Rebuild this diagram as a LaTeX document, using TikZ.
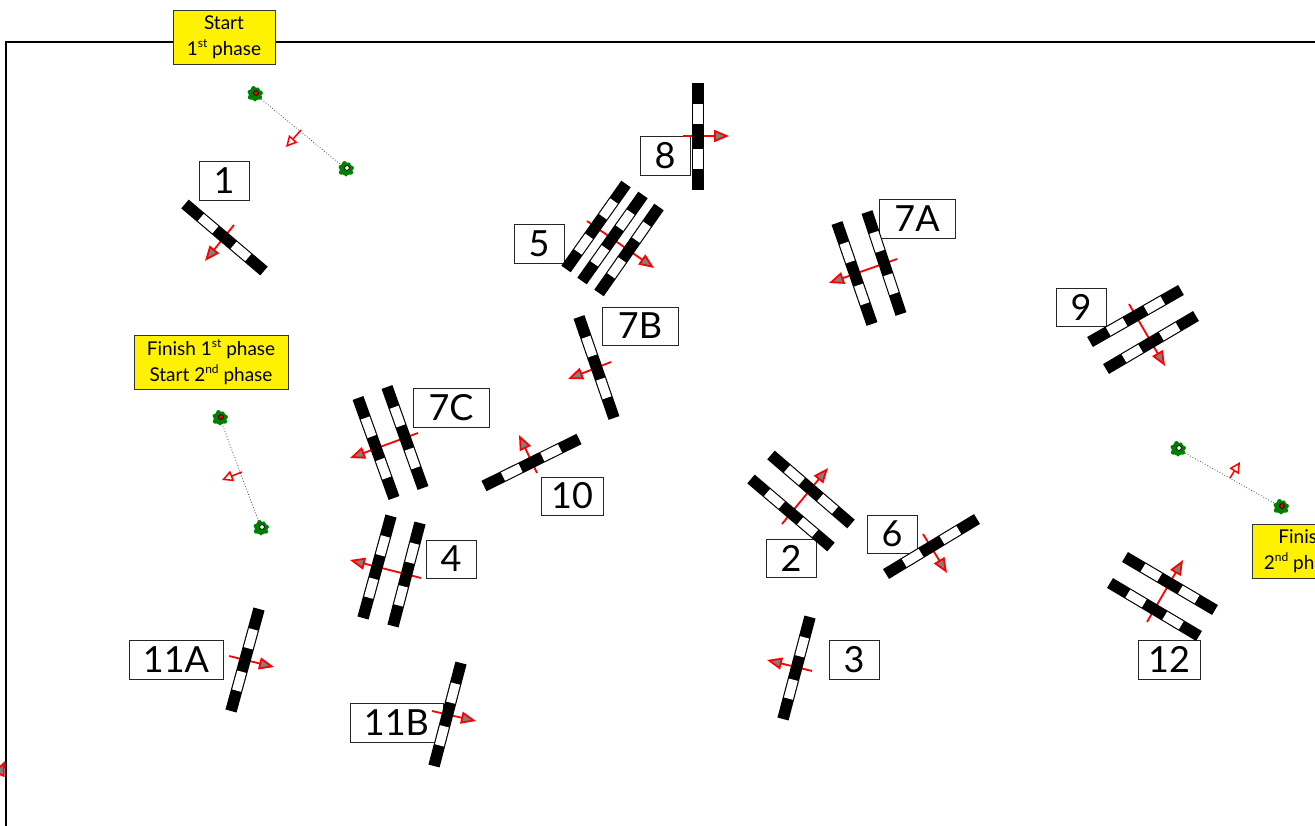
\documentclass[tikz,border=0pt]{standalone}
\usepackage{fontspec}
\setmainfont{Lato}
\usetikzlibrary{calc,arrows.meta}
\definecolor{buoygreen}{RGB}{0,128,0}
\newcommand{\sups}[1]{\raisebox{0.42em}{\fontsize{12}{12}\selectfont #1}}
\tikzset{
  lab/.style={draw=black!85,line width=0.9pt,fill=white,inner sep=0pt,font=\fontsize{36}{36}\selectfont,anchor=center},
  flag/.style={draw=black!80,line width=0.9pt,fill=yellow,inner sep=0pt,align=center,font=\fontsize{19}{26}\selectfont,minimum width=#1,minimum height=54pt,anchor=center},
  dir/.style={draw=red,line width=1.8pt,-{Triangle[length=15pt,width=12pt,fill=gray]}},
  opendir/.style={draw=red,line width=1.5pt,-{Triangle[length=11pt,width=11pt,fill=white]}},
  leg/.style={draw=black!70,line width=0.8pt,dotted},
  barblack/.style={draw=black,line width=11.5pt},
  barwhite/.style={draw=white,line width=9.2pt}
}
\newcommand{\gatebar}[2]{%
  \coordinate (ga) at (#1); \coordinate (gb) at (#2);
  \draw[barblack] (ga) -- (gb);
  \draw[barwhite] ($(ga)!0.2!(gb)$) -- ($(ga)!0.385!(gb)$);
  \draw[barwhite] ($(ga)!0.615!(gb)$) -- ($(ga)!0.8!(gb)$);
}
\newcommand{\buoy}[2]{%
  \node[circle,fill=buoygreen,minimum size=13pt,inner sep=0pt] (#1) at (#2) {};
  \foreach \a/\r in {10/2.2,60/1.8,105/2.4,160/2.0,215/2.4,270/1.8,325/2.4}
    \fill[buoygreen] (#2) ++(\a:5.8pt) circle[radius=\r pt];
}
\newcommand{\buoydot}[2]{%
  \draw[black,line width=0.8pt,fill=#2] (#1) ++(1pt,1pt) circle[radius=2.4pt];
}
\newcommand{\boxlab}[6]{% name, x1,y1,x2,y2,text
  \node[lab,minimum width=#4pt-#2pt,minimum height=#5pt-#3pt] (#1) at ({(#2+#4)/2},{(#3+#5)/2}) {#6};
}
\begin{document}
\begin{tikzpicture}[x=1pt,y=-1pt]
\useasboundingbox (0,0) rectangle (1315,826);
\clip (0,0) rectangle (1315,826);
\fill[white] (0,0) rectangle (1315,826);
\draw[black,line width=1.5pt] (6,900) -- (6,42) -- (1400,42);
\draw[dir] (-5,783) -- (5,761);
% labels under gates
\boxlab{l1}{199}{161}{249}{200}{1}
\boxlab{l8}{640}{136}{690}{175}{8}
\boxlab{l5}{514}{224}{564}{263}{5}
\boxlab{l7A}{879}{199}{955}{238}{7A}
\boxlab{l7B}{602}{307}{678}{345}{7B}
\boxlab{l9}{1056}{288}{1106}{326}{9}
\boxlab{l7C}{413}{388}{489}{427}{7C}
\boxlab{l10}{541}{477}{603}{515}{10}
\boxlab{l6}{867}{515}{917}{553}{6}
\boxlab{l2}{766}{539}{816}{577}{2}
\boxlab{l4}{426}{540}{476}{578}{4}
\boxlab{l3}{829}{640}{879}{679}{3}
\boxlab{l12}{1138}{640}{1200}{679}{12}
\boxlab{l11A}{129}{640}{223}{679}{11A}
\boxlab{l11B}{350}{703}{443}{742}{11B}
% flags
\node[flag=102pt] (f1) at (224,37.5) {Start\\1\sups{st} phase};
\node[flag=154pt] (f2) at (211,362) {Finish 1\sups{st} phase\\Start 2\sups{nd} phase};
\node[flag=102pt] (f3) at (1303,551) {Finish\\2\sups{nd} phase};
% direction arrows, then gates on top of them
\draw[dir] (234,225) -- (205,261);
\gatebar{185,204}{264,271}
\draw[dir] (683,136) -- (729,136);
\gatebar{698,83}{698,190}
\draw[dir] (587,221) -- (654,268);
\gatebar{626,184}{566,269}
\gatebar{643,195}{582,281}
\gatebar{659,207}{599,293}
\draw[dir] (897,259) -- (829,283);
\gatebar{837,223}{872,324}
\gatebar{867,212}{901,314}
\draw[dir] (611,362) -- (568,379);
\gatebar{579,317}{614,418}
\draw[dir] (1129,304) -- (1165,366);
\gatebar{1090,342}{1181,290}
\gatebar{1106,369}{1196,316}
\draw[dir] (418,433) -- (350,458);
\gatebar{358,398}{394,498}
\gatebar{387,387}{423,488}
\draw[dir] (537,473) -- (519,435);
\gatebar{484,486}{579,439}
\draw[dir] (421,578) -- (350,560);
\gatebar{391,516}{363,618}
\gatebar{420,523}{393,626}
\draw[dir] (782,524) -- (828,468);
\gatebar{771,455}{851,524}
\gatebar{751,479}{831,547}
\draw[dir] (923,534) -- (947,573);
\gatebar{886,574}{977,519}
\draw[dir] (812,671) -- (767,660);
\gatebar{810,617}{783,719}
\draw[dir] (1147,622) -- (1183,560);
\gatebar{1125,557}{1215,610}
\gatebar{1110,583}{1199,636}
\draw[dir] (229,656) -- (274,667);
\gatebar{259,609}{231,711}
\draw[dir] (432,711) -- (476,721);
\gatebar{461,663}{434,766}
% buoys
\buoy{b1a}{255,94}
\buoy{b1b}{346,169}
\draw[leg] (b1a.center) -- (b1b.center);
\buoydot{255,94}{red}
\buoydot{346,169}{white}
\draw[opendir] (301,130) -- (286,147);
\buoy{b2a}{220,418}
\buoy{b2b}{261,528}
\draw[leg] (b2a.center) -- (b2b.center);
\buoydot{220,418}{red}
\buoydot{261,528}{white}
\draw[opendir] (242,472) -- (222,480);
\buoy{b3a}{1178,449}
\buoy{b3b}{1281,507}
\draw[leg] (b3a.center) -- (b3b.center);
\buoydot{1178,449}{white}
\buoydot{1281,507}{red}
\draw[opendir] (1230,478) -- (1240,462);
\end{tikzpicture}
\end{document}
